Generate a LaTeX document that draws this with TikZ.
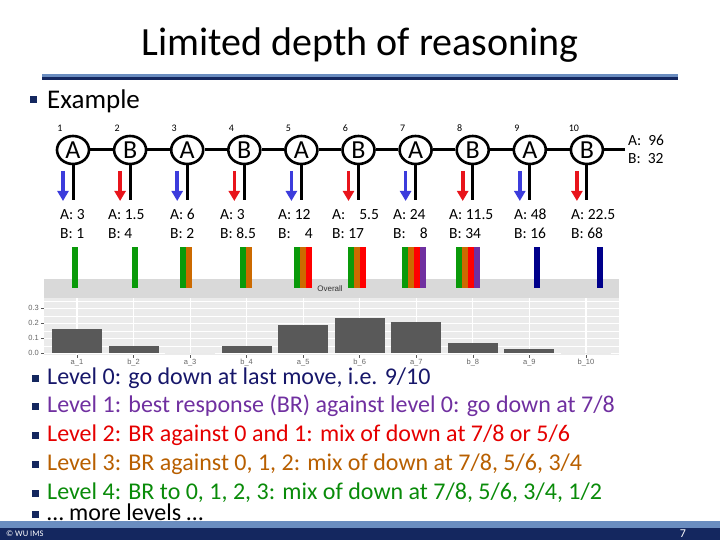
\documentclass[tikz,border=0pt]{standalone}
\usepackage{fontspec}
\setmainfont{Carlito}
\newfontfamily\plotfont{Liberation Sans}
\usetikzlibrary{arrows.meta,shapes.geometric}
\definecolor{wunavy}{HTML}{14275F}
\definecolor{wublue}{HTML}{6A8DC0}
\definecolor{lvzero}{HTML}{00008B}
\definecolor{lvone}{HTML}{7030A0}
\definecolor{lvtwo}{HTML}{FF0000}
\definecolor{lvthree}{HTML}{CC6A00}
\definecolor{lvfour}{HTML}{0A9A0A}
\definecolor{textzero}{HTML}{17176A}
\definecolor{arrA}{HTML}{3C3CDC}
\definecolor{arrB}{HTML}{E8141B}
\definecolor{panelbg}{HTML}{EBEBEB}
\definecolor{stripbg}{HTML}{D9D9D9}
\definecolor{barfill}{HTML}{595959}
\begin{document}
\begin{tikzpicture}[x=1pt,y=-1pt]
	\tikzset{dec/.style={ellipse,draw,line width=2.6pt,minimum width=32pt,minimum height=28pt,inner sep=0pt,fill=white,font=\fontsize{26}{26}\selectfont},
		tree/.style={line width=3pt},
		pay/.style={anchor=base west,inner sep=0pt,font=\fontsize{15.5}{15.5}\selectfont},
		down/.style={line width=3.6pt,-{Triangle[width=11pt,length=10pt]}},
		bul/.style={fill=wunavy,minimum size=7pt,inner sep=0pt},
		lvl/.style={anchor=west,inner sep=0pt,font=\fontsize{24}{24}\selectfont},
		tick/.style={text=gray!80!black,font=\plotfont\fontsize{7.5}{7.5}\selectfont}}
	\useasboundingbox(0,0)rectangle(720,540);
	% title
	\node[font=\fontsize{40}{40}\selectfont](title)at(360,45){Limited depth of reasoning};
	\fill[wublue](42,74)rectangle(678,77);
	\fill[wunavy](42,77)rectangle(678,80);
	\node[bul](b0)at(33,100){};
	\node[lvl,font=\fontsize{27}{27}\selectfont](ex)at(47,101){Example};
	% game tree
	\foreach \i/\p in{1/A,2/B,3/A,4/B,5/A,6/B,7/A,8/B,9/A,10/B}{
		\node[dec](n\i)at({73+57.1*(\i-1)},150){\p};
		\node[font=\fontsize{10}{10}\selectfont](t\i)at({60+57.1*(\i-1)},128){\i};
		\coordinate(d\i)at({73+57.1*(\i-1)},200);
		\coordinate(u\i)at({63+57.1*(\i-1)},171);
		\coordinate(v\i)at({63+57.1*(\i-1)},201);
	}
	\foreach \i [evaluate=\i as \j using int(\i+1)] in{1,...,9}
	\draw[tree](n\i)--(n\j);
	\coordinate(end)at(625,150);
	\draw[tree](n10)--(end);
	\foreach \i in{1,...,10}
	\draw[tree](n\i)--(d\i);
	\foreach \i in{1,3,5,7,9}
	\draw[down,arrA](u\i)--(v\i);
	\foreach \i in{2,4,6,8,10}
	\draw[down,arrB](u\i)--(v\i);
	\node[pay](qa)at(628,146){A:\ \ 96};
	\node[pay](qb)at(628,164){B:\ \ 32};
	\foreach \x/\a/\b [count=\i] in{60/3/1,108/1.5/4,170/6/2,220/3/8.5,278/12/\ \ \ 4,332/\ \ \ 5.5/17,393/24/\ \ \ 8,449/11.5/34,514/48/16,571/22.5/68}{
		\node[pay](pa\i)at(\x,219){A: \a};
		\node[pay](pb\i)at(\x,238){B: \b};
	}
	% plot panel
	\fill[panelbg](44,298)rectangle(619,355);
	\foreach \v in{0.05,0.15,0.25,0.35}
	\draw[white,line width=0.5pt](44,{353.3-150*\v})--(619,{353.3-150*\v});
	\foreach \v in{0,0.1,0.2,0.3}{
		\draw[white,line width=1.1pt](44,{353.3-150*\v})--(619,{353.3-150*\v});
		\draw[gray!70!black,line width=0.6pt](41,{353.3-150*\v})--(44,{353.3-150*\v});
	}
	\foreach \v/\s in{0/0.0,0.1/0.1,0.2/0.2,0.3/0.3}
	\node[tick,anchor=east,inner sep=1pt](y\s)at(40,{353.3-150*\v}){\s};
	\foreach \n/\v [count=\i] in{a\_1/0.16,b\_2/0.049,a\_3/0,b\_4/0.049,a\_5/0.187,b\_6/0.233,a\_7/0.21,b\_8/0.07,a\_9/0.027,b\_10/0}{
		\draw[white,line width=1.1pt]({77+56.55*(\i-1)},298)--({77+56.55*(\i-1)},355);
		\fill[barfill]({52+56.55*(\i-1)},353.3)rectangle({102+56.55*(\i-1)},{353.3-150*\v});
		\draw[gray!70!black,line width=0.6pt]({77+56.55*(\i-1)},355)--({77+56.55*(\i-1)},358);
		\node[tick,inner sep=0.5pt](x\i)at({77+56.55*(\i-1)},363){\n};
	}
	\fill[stripbg](44,279)rectangle(619,298);
	\node[font=\plotfont\fontsize{8}{8}\selectfont,text=black!80](strip)at(330,289){Overall};
	% levels per decision
	\foreach \x/\cols in{72/{lvfour},132/{lvfour},180/{lvfour,lvthree},240/{lvfour,lvthree},294/{lvfour,lvthree,lvtwo},348/{lvfour,lvthree,lvtwo},402/{lvfour,lvthree,lvtwo,lvone},456/{lvfour,lvthree,lvtwo,lvone},534/{lvzero},597/{lvzero}}
	\foreach \c [count=\k] in \cols
	\fill[\c]({\x+6*\k-6},247)rectangle++(6,41);
	% levels
	\foreach \y/\c/\t [count=\i] in{378/textzero/{Level 0: go down at last move, i.e. 9/10},406/lvone/{Level 1: best response (BR) against level 0: go down at 7/8},435/lvtwo!90!black/{Level 2: BR against 0 and 1: mix of down at 7/8 or 5/6},464/lvthree!90!black/{Level 3: BR against 0, 1, 2: mix of down at 7/8, 5/6, 3/4},493/lvfour!90!black/{Level 4: BR to 0, 1, 2, 3: mix of down at 7/8, 5/6, 3/4, 1/2}}{
		\node[bul](b\i)at(35,\y){};
		\node[lvl,text=\c](l\i)at(47,\y){\t};
	}
	\node[bul](b6)at(35,514){};
	\node[lvl](l6)at(47,512){\dots\ more levels \dots};
	% footer
	\fill[wublue](0,521)rectangle(720,528);
	\fill[wunavy](0,528)rectangle(720,540);
	\node[anchor=west,text=white,inner sep=0pt,font=\fontsize{8.5}{8.5}\selectfont](copy)at(6,534){© WU IMS};
	\node[text=white,inner sep=0pt,font=\fontsize{12}{12}\selectfont](page)at(683,534){7};
\end{tikzpicture}
\end{document}
